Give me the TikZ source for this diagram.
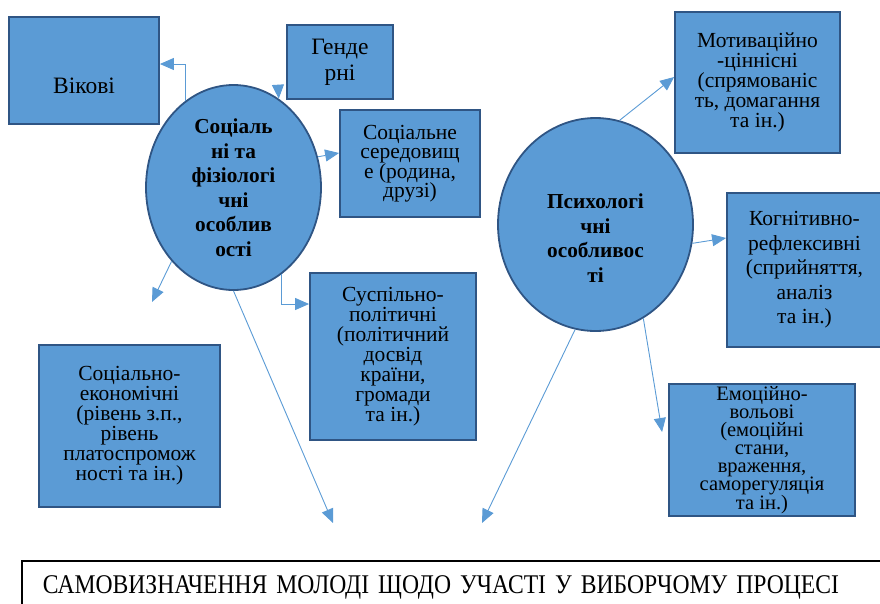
\documentclass[tikz,border=0pt]{standalone}
\usepackage{fontspec}
\setmainfont{Liberation Serif}
\newfontfamily\goalfont{Liberation Serif}[FakeStretch=0.875]
\usetikzlibrary{shapes.geometric,arrows.meta}
\definecolor{boxblue}{RGB}{91,155,213}
\definecolor{boxedge}{RGB}{47,85,132}
\definecolor{linkblue}{RGB}{91,155,213}

\begin{document}
\begin{tikzpicture}[
		x=1pt, y=-1pt,
		box/.style={rectangle,draw=boxedge,fill=boxblue,line width=1.8pt,
		inner sep=0pt,align=center,font=\fontsize{21.5}{20}\selectfont},
		oval/.style={ellipse,draw=boxedge,fill=boxblue,line width=1.8pt,
		inner sep=0pt,align=center,font=\fontsize{21.3}{24.5}\selectfont\bfseries},
		goal/.style={rectangle,draw=black,line width=1.8pt,inner xsep=21pt,inner ysep=0pt,
		text width=860pt,align=left,text height=33pt,text depth=27pt,
		font=\goalfont\fontsize{27}{27}\selectfont},
		link/.style={-{Triangle[length=14pt,width=12pt]},draw=linkblue,line width=0.9pt}
		]
		\useasboundingbox (0,0) rectangle (880,603);
		\node[box,minimum width=150pt,minimum height=107pt,text height=76pt,text depth=31pt,font=\fontsize{23.5}{24}\selectfont] (vik) at (84,70.5) {Вікові};
		\node[box,minimum width=106pt,minimum height=74pt,font=\fontsize{23.5}{26}\selectfont] (gend) at (340,62) {Генде\\рні};
		\node[box,minimum width=140pt,minimum height=107pt,font=\fontsize{21.5}{19.5}\selectfont] (sered) at (410,163.5) {Соціальне\\середовищ\\е (родина,\\друзі)};
		\node[box,minimum width=166pt,minimum height=167pt] (susp) at (393,356.5) {Суспільно-\\політичні\\(політичний\\досвід\\країни,\\громади\\та ін.)};
		\node[box,minimum width=181pt,minimum height=162pt] (ekon) at (129.5,426) {Соціально-\\економічні\\(рівень з.п.,\\рівень\\платоспромож\\ності та ін.)};
		\node[box,minimum width=165pt,minimum height=141pt] (motiv) at (757.5,82.5) {Мотиваційно\\-ціннісні\\(спрямованіс\\ть, домагання\\та ін.)};
		\node[box,minimum width=155pt,minimum height=154pt,font=\fontsize{21.5}{24.5}\selectfont] (kogn) at (804.5,270) {Когнітивно-\\рефлексивні\\(сприйняття,\\аналіз\\та ін.)};
		\node[box,minimum width=186pt,minimum height=132pt,font=\fontsize{20.5}{18}\selectfont] (emoc) at (762,450) {Емоційно-\\вольові\\(емоційні\\стани,\\враження,\\саморегуляція\\та ін.)};
		\node[oval,minimum width=175pt,minimum height=205pt] (soc) at (233.5,187.5) {Соціаль\\ні та\\фізіологі\\чні\\особлив\\ості};
		\node[oval,minimum width=195pt,minimum height=213pt,text height=132.5pt,text depth=17.5pt] (psy) at (595.5,224.5) {Психологі\\чні\\особливос\\ті};
		\node[goal,anchor=north west] (goal) at (21,560) {САМОВИЗНАЧЕННЯ МОЛОДІ ЩОДО УЧАСТІ У ВИБОРЧОМУ ПРОЦЕСІ};
		\coordinate (gtop) at (278,86);
		\coordinate (sfree) at (152,302);
		\coordinate (sdown) at (333,523);
		\coordinate (pdown) at (482,523);
		\draw[link] (soc.119) |- ([yshift=6.5pt]vik.east);
		\draw[link] (gtop) -- (soc.63);
		\draw[link] (soc.20) -- ([yshift=10.5pt]sered.west);
		\draw[link] (soc.-61) |- ([yshift=52.5pt]susp.west);
		\draw[link] (soc.-130) -- (sfree);
		\draw[link] (soc.south) -- (sdown);
		\draw[link] (psy.77) -- ([yshift=5.5pt]motiv.west);
		\draw[link] (psy.-11) -- ([yshift=32pt]kogn.west);
		\draw[link] (psy.-63) -- ([xshift=-6pt,yshift=18pt]emoc.west);
		\draw[link] (psy.-101) -- (pdown);
	\end{tikzpicture}
\end{document}
